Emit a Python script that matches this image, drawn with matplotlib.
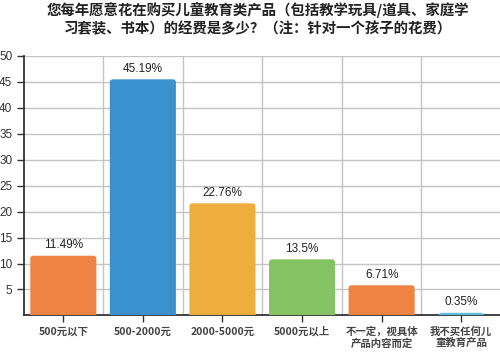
import matplotlib.pyplot as plt
from matplotlib.patches import FancyBboxPatch

plt.rcParams["font.family"] = ["Noto Sans CJK SC", "DejaVu Sans"]

title = "您每年愿意花在购买儿童教育类产品（包括教学玩具/道具、家庭学\n习套装、书本）的经费是多少？（注：针对一个孩子的花费）"
categories = ["500元以下", "500-2000元", "2000-5000元", "5000元以上",
              "不一定，视具体\n产品内容而定", "我不买任何儿\n童教育产品"]
# bar heights as drawn in the picture, labels as printed above them
heights = [11.5, 45.5, 21.6, 10.8, 5.8, 0.5]
value_labels = ["11.49%", "45.19%", "22.76%", "13.5%", "6.71%", "0.35%"]
colors = ["#EF8343", "#3B91CD", "#EFAD3D", "#85C264", "#EF8343", "#5EBEDD"]
widths = [0.83, 0.83, 0.83, 0.83, 0.83, 0.57]
yticks = [5, 10, 15, 20, 25, 30, 35, 40, 45, 50]

fig = plt.figure(figsize=(5.0, 3.52), dpi=100)
ax = fig.add_axes([0.047, 0.104, 0.955, 0.737])

x = list(range(len(categories)))
bars = ax.bar(x, heights, width=widths, color=colors, zorder=3)

# replace plain rectangles with top-rounded ones (bottom corners hidden under axis)
aspect = (ax.get_position().height * 352 / 50) ** -1 * (ax.get_position().width * 500 / 6)
for bar, c in zip(bars, colors):
    bx, bw, bh = bar.get_x(), bar.get_width(), bar.get_height()
    r = 0.04
    ext = r * aspect
    patch = FancyBboxPatch((bx, -ext), bw, bh + ext,
                           boxstyle=f"round,pad=0,rounding_size={r}",
                           mutation_aspect=aspect, facecolor=c, edgecolor="none",
                           zorder=3, clip_on=True)
    ax.add_patch(patch)
    bar.set_visible(False)

for xi, h, lab in zip(x, heights, value_labels):
    ax.text(xi, h + 0.9, lab, ha="center", va="bottom", fontsize=8.5,
            family="Liberation Sans", color="#222222")

ax.set_xlim(-0.5, 5.5)
ax.set_ylim(0, 50)
ax.set_yticks(yticks)
ax.set_yticklabels([str(v) for v in yticks], family="Liberation Sans", fontsize=8.5, color="#333333")
ax.set_xticks(x)
ax.set_xticklabels(categories, fontsize=7.5, color="#444444", linespacing=1.1, fontweight="bold")
ax.set_xticks([i + 0.5 for i in range(6)], minor=True)
ax.tick_params(axis="x", which="minor", length=0)
ax.tick_params(axis="both", which="major", length=5, width=1, color="#333333", pad=3)

ax.grid(axis="y", which="major", color="#C4C4C4", linewidth=1, zorder=0)
ax.grid(axis="x", which="minor", color="#C4C4C4", linewidth=1, zorder=0)
for side in ["top", "right"]:
    ax.spines[side].set_visible(False)
for side in ["left", "bottom"]:
    ax.spines[side].set_color("#333333")
    ax.spines[side].set_linewidth(1.3)

fig.text(0.515, 0.995, title, ha="center", va="top", fontsize=10.4, fontweight="bold",
         color="#222222", linespacing=1.2)

fig.savefig("out.png", dpi=100)
